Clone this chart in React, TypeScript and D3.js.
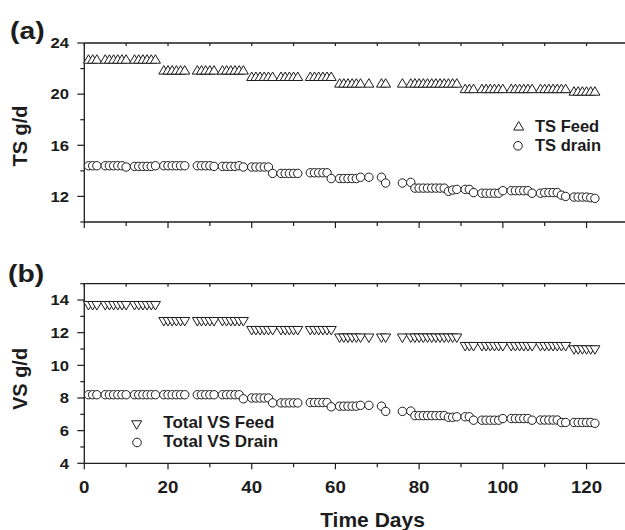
import React from "react";
import * as d3 from "d3";

const days = [1,2,3,5,6,7,8,9,10,12,13,14,15,16,17,
19,20,21,22,23,24,27,28,29,30,31,33,34,35,36,37,38,
40,41,42,43,44,45,47,48,49,50,51,54,55,56,57,58,59,
61,62,63,64,65,66,68,71,72,76,78,79,80,81,82,83,84,85,86,87,88,89,
91,92,93,95,96,97,98,99,100,102,103,104,105,106,107,109,110,111,112,113,114,115,
117,118,119,120,121,122];

const tsFeed = [22.75,22.75,22.75,22.75,22.75,22.75,22.75,22.75,22.75,22.75,22.75,22.75,22.75,22.75,22.75,
21.9,21.9,21.9,21.9,21.9,21.9,21.9,21.9,21.9,21.9,21.9,21.9,21.9,21.9,21.9,21.9,21.9,
21.4,21.4,21.4,21.4,21.4,21.4,21.4,21.4,21.4,21.4,21.4,21.4,21.4,21.4,21.4,21.4,21.4,
20.88,20.88,20.88,20.88,20.88,20.88,20.88,20.88,20.88,20.88,20.88,20.88,20.88,20.88,20.88,20.88,20.88,20.88,20.88,20.88,20.88,20.88,
20.45,20.45,20.45,20.45,20.45,20.45,20.45,20.45,20.45,20.45,20.45,20.45,20.45,20.45,20.45,20.45,20.45,20.45,20.45,20.45,20.45,20.45,
20.25,20.25,20.25,20.25,20.25,20.25];

const tsDrain = [14.4,14.4,14.4,14.4,14.4,14.4,14.4,14.4,14.3,14.35,14.35,14.35,14.35,14.35,14.4,
14.4,14.4,14.4,14.4,14.4,14.4,14.4,14.4,14.4,14.4,14.35,14.35,14.35,14.35,14.35,14.4,14.3,
14.3,14.3,14.3,14.3,14.3,13.8,13.8,13.8,13.8,13.8,13.8,13.85,13.85,13.85,13.85,13.85,13.4,
13.4,13.4,13.4,13.4,13.4,13.5,13.5,13.5,13.05,13.05,13.1,12.65,12.65,12.65,12.65,12.65,12.65,12.65,12.65,12.4,12.5,12.55,
12.55,12.55,12.3,12.25,12.25,12.25,12.25,12.25,12.45,12.45,12.45,12.45,12.45,12.45,12.25,12.25,12.3,12.3,12.3,12.3,12.1,12.0,
11.95,11.95,11.95,11.95,11.9,11.85];

const vsFeed = [13.65,13.65,13.65,13.65,13.65,13.65,13.65,13.65,13.65,13.65,13.65,13.65,13.65,13.65,13.65,
12.67,12.67,12.67,12.67,12.67,12.67,12.67,12.67,12.67,12.67,12.67,12.67,12.67,12.67,12.67,12.67,12.67,
12.12,12.12,12.12,12.12,12.12,12.12,12.12,12.12,12.12,12.12,12.12,12.12,12.12,12.12,12.12,12.12,12.12,
11.66,11.66,11.66,11.66,11.66,11.66,11.66,11.66,11.66,11.66,11.66,11.66,11.66,11.66,11.66,11.66,11.66,11.66,11.66,11.66,11.66,11.66,
11.14,11.14,11.14,11.14,11.14,11.14,11.14,11.14,11.14,11.14,11.14,11.14,11.14,11.14,11.14,11.14,11.14,11.14,11.14,11.14,11.14,11.14,
10.94,10.94,10.94,10.94,10.94,10.94];

const vsDrain = [8.2,8.2,8.2,8.2,8.2,8.2,8.2,8.2,8.2,8.2,8.2,8.2,8.2,8.2,8.2,
8.2,8.2,8.2,8.2,8.2,8.2,8.2,8.2,8.2,8.2,8.2,8.2,8.2,8.2,8.2,8.2,7.95,
8.0,8.0,8.0,8.0,8.0,7.7,7.7,7.7,7.7,7.7,7.7,7.72,7.72,7.72,7.72,7.72,7.46,
7.5,7.5,7.5,7.5,7.5,7.55,7.55,7.5,7.18,7.18,7.2,6.92,6.92,6.92,6.92,6.92,6.92,6.92,6.92,6.82,6.82,6.85,
6.85,6.85,6.64,6.64,6.64,6.64,6.64,6.64,6.74,6.74,6.74,6.74,6.74,6.74,6.64,6.65,6.65,6.65,6.65,6.65,6.5,6.5,
6.5,6.5,6.5,6.5,6.5,6.45];

const xTicks = [0, 20, 40, 60, 80, 100, 120];
const topYTicks = [12, 16, 20, 24];
const botYTicks = [4, 6, 8, 10, 12, 14];

const INK = "#1c1c1c";
const FONT = "'Liberation Sans', Arial, sans-serif";

const x = d3.scaleLinear().domain([0, 130]).range([84.3, 628.4]);
const yTop = d3.scaleLinear().domain([10, 24]).range([222, 43]);
const yBot = d3.scaleLinear().domain([4, 15]).range([463.3, 283.7]);

function SText({ x, y, size, sx = 1, anchor = "start", children, dy = "0" }: any) {
  return (
    <g transform={`translate(${x},${y}) scale(${sx},1)`}>
      <text textAnchor={anchor} fontFamily={FONT} fontWeight="bold" fontSize={size} fill={INK} dy={dy}>
        {children}
      </text>
    </g>
  );
}

const triUp = "M-5,4.25L5,4.25L0,-4.25Z";
const triDown = "M-5,-4.25L5,-4.25L0,4.25Z";

function Panel({ y, yTicks, minorStep, feed, drain, feedPath }: any) {
  const [y0, y1] = y.domain();
  const bottom = y.range()[0];
  const top = y.range()[1];
  const minorX = d3.range(0, 131, 10);
  const minorY = d3.range(y0, y1 + 0.001, minorStep);
  return (
    <g>
      {/* frame */}
      <line x1={84.3} x2={628.4} y1={top} y2={top} stroke={INK} strokeWidth={1.3} />
      <line x1={84.3} x2={628.4} y1={bottom} y2={bottom} stroke={INK} strokeWidth={1.3} />
      <line x1={84.3} x2={84.3} y1={top} y2={bottom} stroke={INK} strokeWidth={1.3} />
      {minorX.map((t) => (
        <g key={"xt" + t}>
          <line x1={x(t)} x2={x(t)} y1={bottom} y2={bottom + (t % 20 === 0 ? 6 : 4)} stroke={INK} strokeWidth={1.2} />
          <line x1={x(t)} x2={x(t)} y1={top} y2={top + 3} stroke={INK} strokeWidth={1.2} />
        </g>
      ))}
      {minorY.map((t: number) => {
        const major = yTicks.includes(Math.round(t * 100) / 100);
        return (
          <line key={"yt" + t} x1={84.3 - (major ? 7 : 4)} x2={84.3} y1={y(t)} y2={y(t)} stroke={INK} strokeWidth={1.2} />
        );
      })}
      {yTicks.map((t: number) => (
        <SText key={"yl" + t} x={69} y={y(t)} size={14.5} sx={1.15} anchor="end" dy="0.36em">
          {t}
        </SText>
      ))}
      {days.map((d, i) => (
        <path key={"f" + i} d={feedPath} transform={`translate(${x(d)},${y(feed[i])})`} fill="white" stroke={INK} strokeWidth={1} />
      ))}
      {days.map((d, i) => (
        <circle key={"c" + i} cx={x(d)} cy={y(drain[i])} r={4.2} fill="white" stroke={INK} strokeWidth={1} />
      ))}
    </g>
  );
}

export default function App() {
  return (
    <svg width={625} height={530} style={{ position: "absolute", left: 0, top: 0, background: "white" }}>
      <rect width={625} height={530} fill="white" />
      <Panel y={yTop} yTicks={topYTicks} minorStep={2} feed={tsFeed} drain={tsDrain} feedPath={triUp} />
      <Panel y={yBot} yTicks={botYTicks} minorStep={1} feed={vsFeed} drain={vsDrain} feedPath={triDown} />

      {xTicks.map((t) => (
        <SText key={"xl" + t} x={x(t)} y={493.3} size={16} sx={1.17} anchor="middle">
          {t}
        </SText>
      ))}

      <SText x={10} y={39} size={24} sx={1.18}>(a)</SText>
      <SText x={8} y={282} size={24} sx={1.18}>(b)</SText>

      <text transform="translate(27,136) rotate(-90)" textAnchor="middle" fontFamily={FONT} fontWeight="bold" fontSize={20} fill={INK}>TS g/d</text>
      <text transform="translate(27,379) rotate(-90)" textAnchor="middle" fontFamily={FONT} fontWeight="bold" fontSize={20} fill={INK}>VS g/d</text>
      <text x={372.5} y={526.5} textAnchor="middle" fontFamily={FONT} fontWeight="bold" fontSize={21} fill={INK}>Time Days</text>

      {/* top legend */}
      <path d={triUp} transform="translate(518.7,125.8)" fill="white" stroke={INK} strokeWidth={1} />
      <circle cx={518} cy={145.8} r={4.3} fill="white" stroke={INK} strokeWidth={1} />
      <text x={535} y={131.5} fontFamily={FONT} fontWeight="bold" fontSize={16.5} fill={INK}>TS Feed</text>
      <text x={535} y={150.8} fontFamily={FONT} fontWeight="bold" fontSize={16.5} fill={INK}>TS drain</text>

      {/* bottom legend */}
      <path d={triDown} transform="translate(136.7,425)" fill="white" stroke={INK} strokeWidth={1} />
      <circle cx={137} cy={442.5} r={4.3} fill="white" stroke={INK} strokeWidth={1} />
      <text x={163.3} y={428.3} fontFamily={FONT} fontWeight="bold" fontSize={17} fill={INK}>Total VS Feed</text>
      <text x={163.3} y={447.3} fontFamily={FONT} fontWeight="bold" fontSize={17} fill={INK}>Total VS Drain</text>
    </svg>
  );
}
